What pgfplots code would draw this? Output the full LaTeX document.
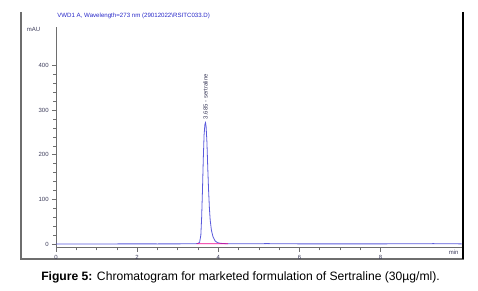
\documentclass[border=0pt]{standalone}
\usepackage{pgfplots}
\pgfplotsset{compat=1.18}
\usepackage{fontspec}
\setmainfont{Liberation Sans}
\definecolor{trace}{RGB}{90,90,220}
\definecolor{axgray}{RGB}{110,110,110}
\definecolor{ttl}{RGB}{40,40,200}
\definecolor{lbl}{RGB}{60,60,90}
\begin{document}
\begin{tikzpicture}
\path[use as bounding box] (0pt,0pt) rectangle (358.5pt,218.25pt);
% outer frame
\draw[axgray,line width=2.2pt] (15.75pt,209.25pt) -- (15.75pt,24pt);
\draw[axgray,line width=1.2pt] (15pt,24pt) -- (348pt,24pt);
\draw[black,line width=1.2pt] (347.25pt,209.25pt) -- (347.25pt,24pt);
\node[anchor=west,inner sep=0pt,text=ttl,font=\fontsize{4.6}{6}\selectfont] at (42.75pt,206.25pt) {VWD1 A, Wavelength=273 nm (29012022\textbackslash RSITC033.D)};
\node[anchor=center,inner sep=0pt,font=\fontsize{9.1}{11}\selectfont] at (180.4pt,10.5pt) {\textbf{Figure 5:} Chromatogram for marketed formulation of Sertraline (30µg/ml).};
\begin{axis}[
  at={(42pt,32.475pt)}, anchor=south west,
  scale only axis, width=304.3pt, height=165.5pt,
  xmin=0, xmax=10, ymin=-8.3, ymax=486.5,
  axis x line=bottom, axis y line=left,
  axis line style={-,axgray,line width=0.6pt},
  xtick={0,2,4,6,8}, ytick={0,100,200,300,400},
  minor x tick num=3, minor y tick num=4,
  tick align=outside,
  major tick length=3pt, minor tick length=2pt,
  tick style={axgray,line width=0.5pt},
  ticklabel style={font=\fontsize{4.5}{5}\selectfont,text=lbl},
  xticklabel style={yshift=1pt},
  yticklabel style={xshift=1pt},
  /pgf/number format/assume math mode=true,
  clip=false,
]
\addplot[trace,line width=0.6pt] coordinates {
(0,0) (0.5,0.2) (1,0.1) (1.5,0.2) (2,0.3) (2.5,0.2) (3,0.3) (3.4,0.4)
(3.50,1) (3.54,4) (3.57,20) (3.59,60) (3.61,120) (3.63,190) (3.65,245)
(3.67,268) (3.685,272) (3.70,263) (3.72,228) (3.74,172) (3.76,122)
(3.78,82) (3.80,54) (3.83,31) (3.87,16) (3.92,7) (3.98,3) (4.05,1.5)
(4.2,0.6) (4.6,0.4) (5.0,0.5) (5.2,0.9) (5.4,0.5) (6,0.3) (7,0.3)
(8,0.3) (9,0.4) (9.3,0.8) (9.5,0.4) (10,0.3)};
\addplot[magenta,line width=0.6pt] coordinates {(3.47,0.6) (4.24,0.4)};
\node[rotate=90,anchor=west,inner sep=1pt,font=\fontsize{4.5}{5}\selectfont,text=lbl] at (axis cs:3.685,276) {3.685 - sertraline};
\node[anchor=east,inner sep=1pt,font=\fontsize{4.5}{5}\selectfont,text=lbl] at (axis cs:-0.35,480) {mAU};
\node[anchor=north,inner sep=1pt,font=\fontsize{4.5}{5}\selectfont,text=lbl] at (axis cs:9.8,-11) {min};
\end{axis}
\end{tikzpicture}
\end{document}
